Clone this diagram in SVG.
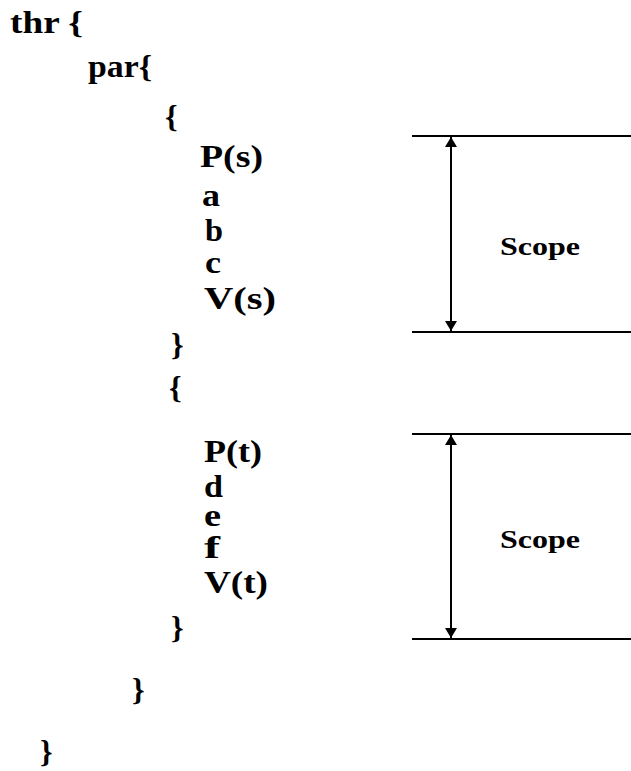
<svg xmlns="http://www.w3.org/2000/svg" width="631" height="771" viewBox="0 0 631 771">
  <style>
    .code { font-family: "Liberation Serif", "Times New Roman", serif; font-weight: bold; font-size: 32px; fill: #000; }
    .label { font-family: "Liberation Serif", "Times New Roman", serif; font-weight: bold; font-size: 25px; fill: #000; }
    .rule { stroke: #000; stroke-width: 2; fill: none; }
    .dim { stroke: #000; stroke-width: 2; fill: none; }
  </style>
  <defs>
    <marker id="tip" viewBox="0 0 10 14" refX="10" refY="7" markerWidth="10" markerHeight="14" markerUnits="userSpaceOnUse" orient="auto-start-reverse">
      <path d="M0,1 L10,7 L0,13 Z" fill="#000"/>
    </marker>
  </defs>
  <rect width="631" height="771" fill="#fff"/>

  <!-- program text -->
  <g id="code">
    <text class="code" x="10" y="33" textLength="73" lengthAdjust="spacingAndGlyphs">thr {</text>
    <text class="code" x="88" y="77" textLength="64" lengthAdjust="spacingAndGlyphs">par{</text>
    <text class="code" x="165" y="127">{</text>
    <text class="code" x="200" y="167" textLength="63" lengthAdjust="spacingAndGlyphs">P(s)</text>
    <text class="code" x="202" y="206" textLength="18" lengthAdjust="spacingAndGlyphs">a</text>
    <text class="code" x="205" y="241" textLength="18" lengthAdjust="spacingAndGlyphs">b</text>
    <text class="code" x="205" y="273" textLength="16" lengthAdjust="spacingAndGlyphs">c</text>
    <text class="code" x="204" y="309" textLength="72" lengthAdjust="spacingAndGlyphs">V(s)</text>
    <text class="code" x="171" y="355">}</text>
    <text class="code" x="169" y="398">{</text>
    <text class="code" x="204" y="462" textLength="58" lengthAdjust="spacingAndGlyphs">P(t)</text>
    <text class="code" x="204" y="497" textLength="19" lengthAdjust="spacingAndGlyphs">d</text>
    <text class="code" x="204" y="526" textLength="17" lengthAdjust="spacingAndGlyphs">e</text>
    <text class="code" x="204" y="558" textLength="16" lengthAdjust="spacingAndGlyphs">f</text>
    <text class="code" x="204" y="593" textLength="64" lengthAdjust="spacingAndGlyphs">V(t)</text>
    <text class="code" x="171" y="638">}</text>
    <text class="code" x="132" y="700">}</text>
    <text class="code" x="40" y="762">}</text>
  </g>

  <!-- scope of the first block -->
  <g id="scope-s">
    <line class="rule" x1="412" y1="136" x2="631" y2="136"/>
    <line class="rule" x1="412" y1="332" x2="631" y2="332"/>
    <text class="label" x="500" y="255" textLength="80" lengthAdjust="spacingAndGlyphs">Scope</text>
  </g>

  <!-- scope of the second block -->
  <g id="scope-t">
    <line class="rule" x1="412" y1="434" x2="631" y2="434"/>
    <line class="rule" x1="412" y1="639" x2="631" y2="639"/>
    <text class="label" x="500" y="548" textLength="80" lengthAdjust="spacingAndGlyphs">Scope</text>
  </g>

  <!-- extent arrows -->
  <g id="connectors">
    <line class="dim" x1="451" y1="137" x2="451" y2="331" marker-start="url(#tip)" marker-end="url(#tip)"/>
    <line class="dim" x1="451" y1="435" x2="451" y2="638" marker-start="url(#tip)" marker-end="url(#tip)"/>
  </g>
</svg>
